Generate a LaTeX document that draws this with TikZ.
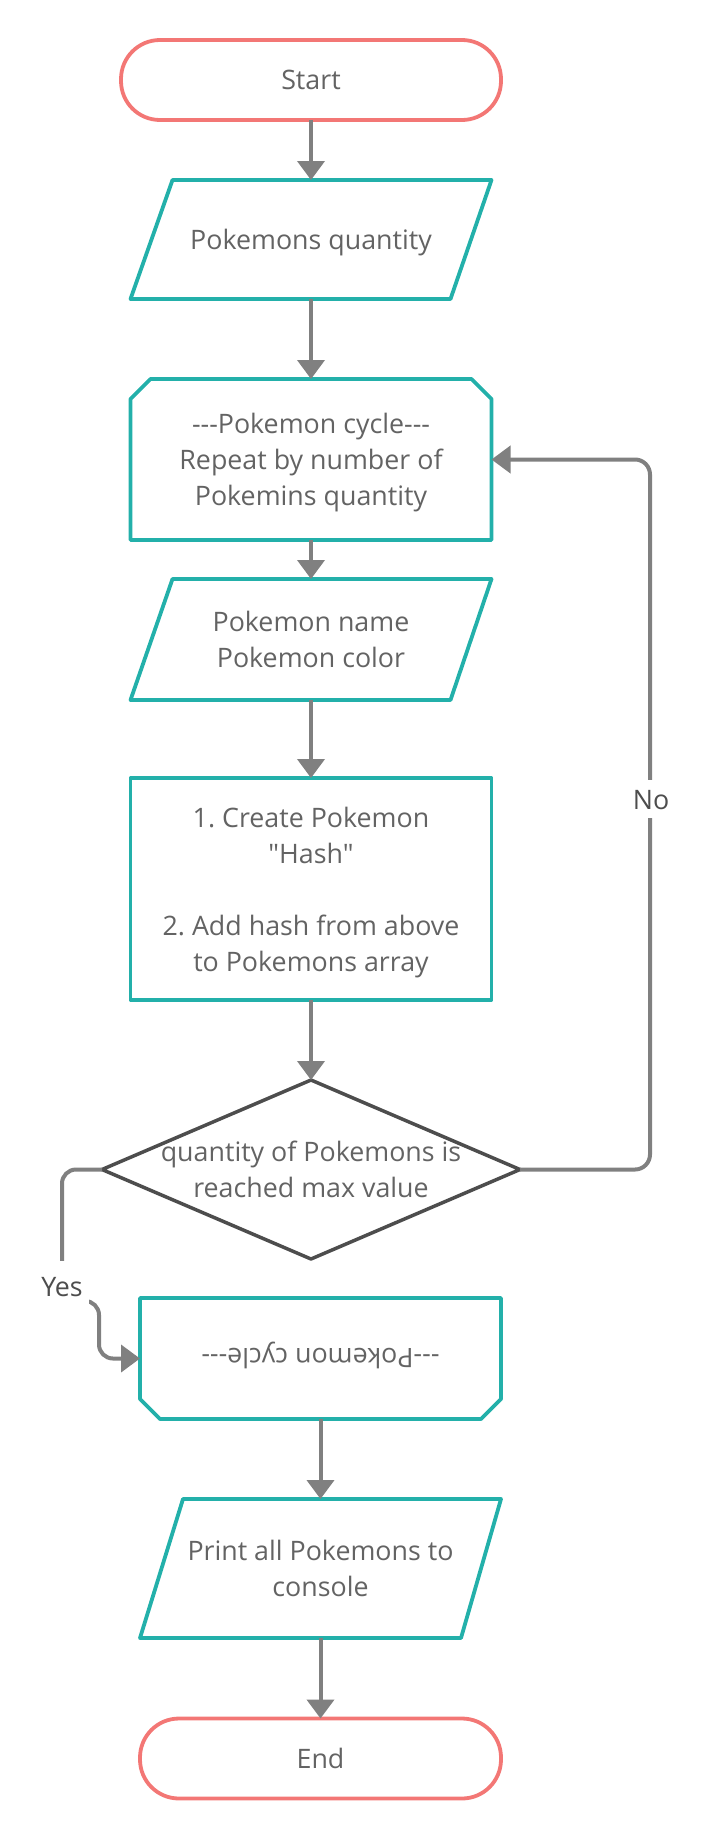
\documentclass[tikz,border=0pt]{standalone}
\usepackage{fontspec}
\usepackage{graphicx}
\setmainfont{Open Sans}[Ligatures=TeXOff]
\usetikzlibrary{arrows.meta,calc}
\definecolor{tealc}{HTML}{23B0AA}
\definecolor{pinkc}{HTML}{F37775}
\definecolor{arrc}{HTML}{808080}
\definecolor{diac}{HTML}{4D4D4D}
\definecolor{txtc}{HTML}{636363}
\definecolor{lblc}{HTML}{4D4D4D}
\newcommand\topstrut{\rule{0pt}{28pt}}
\newcommand\botstrut{\rule[-8pt]{0pt}{8pt}}
\begin{document}
\frenchspacing
\begin{tikzpicture}[x=1pt,y=-1pt,
  every node/.style={font=\fontsize{26.8}{36}\selectfont, text=txtc, align=center, outer sep=0pt, inner sep=0pt},
  term/.style={draw=pinkc, line width=3.8pt, rounded corners=39pt, minimum height=80pt},
  helper/.style={draw=none},
  tealline/.style={draw=tealc, line width=3.8pt, line join=round},
  dialine/.style={draw=diac, line width=3.5pt, line join=round},
  conn/.style={draw=arrc, line width=4pt, -{Triangle[width=27pt,length=19pt]}},
  lbl/.style={fill=white, text=lblc}
]
\useasboundingbox (0,0) rectangle (710,1841);

% nodes
\node[term, minimum width=380pt] (start) at (311,80) {\topstrut Start\botstrut};

\node[helper, minimum width=361pt, minimum height=119pt] (p1) at (311,239.5) {\topstrut Pokemons quantity\botstrut};
\draw[tealline] (p1.south west) -- ($(p1.north west)+(42,0)$) -- (p1.north east) -- ($(p1.south east)+(-41,0)$) -- cycle;

\node[helper, minimum width=361pt, minimum height=161pt] (loop) at (311,459.5) {\topstrut---Pokemon cycle---\\Repeat by number of\\Pokemins quantity\botstrut};
\draw[tealline] (loop.south west) -- ($(loop.north west)+(0,20)$) -- ($(loop.north west)+(20,0)$) -- ($(loop.north east)+(-20,0)$) -- ($(loop.north east)+(0,20)$) -- (loop.south east) -- cycle;

\node[helper, minimum width=361pt, minimum height=121pt] (p2) at (311,639.5) {\topstrut Pokemon name\\Pokemon color\botstrut};
\draw[tealline] (p2.south west) -- ($(p2.north west)+(42,0)$) -- (p2.north east) -- ($(p2.south east)+(-41,0)$) -- cycle;

\node[helper, minimum width=361pt, minimum height=222pt] (proc) at (311,889) {\topstrut 1. Create Pokemon\\"Hash"\\[36pt]2. Add hash from above\\to Pokemons array\botstrut};
\draw[tealline] (proc.south west) rectangle (proc.north east);

\node[helper, minimum width=418pt, minimum height=179pt] (dec) at (311,1169.5) {\topstrut quantity of Pokemons is\\reached max value\botstrut};
\draw[dialine] (dec.north) -- (dec.east) -- (dec.south) -- (dec.west) -- cycle;

\node[helper, minimum width=361pt, minimum height=121pt] (lend) at (320.5,1358.5) {\rotatebox{180}{\topstrut---Pokemon cycle---\botstrut}};
\draw[tealline] (lend.north west) -- (lend.north east) -- ($(lend.south east)+(0,-20)$) -- ($(lend.south east)+(-20,0)$) -- ($(lend.south west)+(20,0)$) -- ($(lend.south west)+(0,-20)$) -- cycle;

\node[helper, minimum width=361pt, minimum height=139pt] (p3) at (320.5,1568.5) {\topstrut Print all Pokemons to\\console\botstrut};
\draw[tealline] (p3.south west) -- ($(p3.north west)+(43,0)$) -- (p3.north east) -- ($(p3.south east)+(-40,0)$) -- cycle;

\node[term, minimum width=361pt] (end) at (320.5,1758.5) {\topstrut End\botstrut};

% connectors
\draw[conn] (start.south) -- (p1.north);
\draw[conn] (p1.south) -- (loop.north);
\draw[conn] (loop.south) -- (p2.north);
\draw[conn] (p2.south) -- (proc.north);
\draw[conn] (proc.south) -- (dec.north);
\draw[conn] (lend.south) -- (p3.north);
\draw[conn] (p3.south) -- (end.north);

\coordinate (nocorner1) at (650,1169.5);
\draw[conn, rounded corners=15pt] (dec.east) -- (nocorner1) -- (nocorner1 |- loop.east) -- (loop.east);
\node[lbl, minimum height=38pt, inner xsep=4pt] (nolbl) at (651,799) {\topstrut No\botstrut};

\coordinate (yc1) at (62,1169.5);
\coordinate (yc2) at (62,1301);
\coordinate (yc3) at (99,1301);
\draw[conn, rounded corners=14pt] (dec.west) -- (yc1) -- (yc2) -- (yc3) -- (yc3 |- lend.west) -- (lend.west);
\node[lbl, minimum height=50pt, minimum width=54pt] (yeslbl) at (62,1286) {\topstrut Yes\botstrut};
\end{tikzpicture}
\end{document}
